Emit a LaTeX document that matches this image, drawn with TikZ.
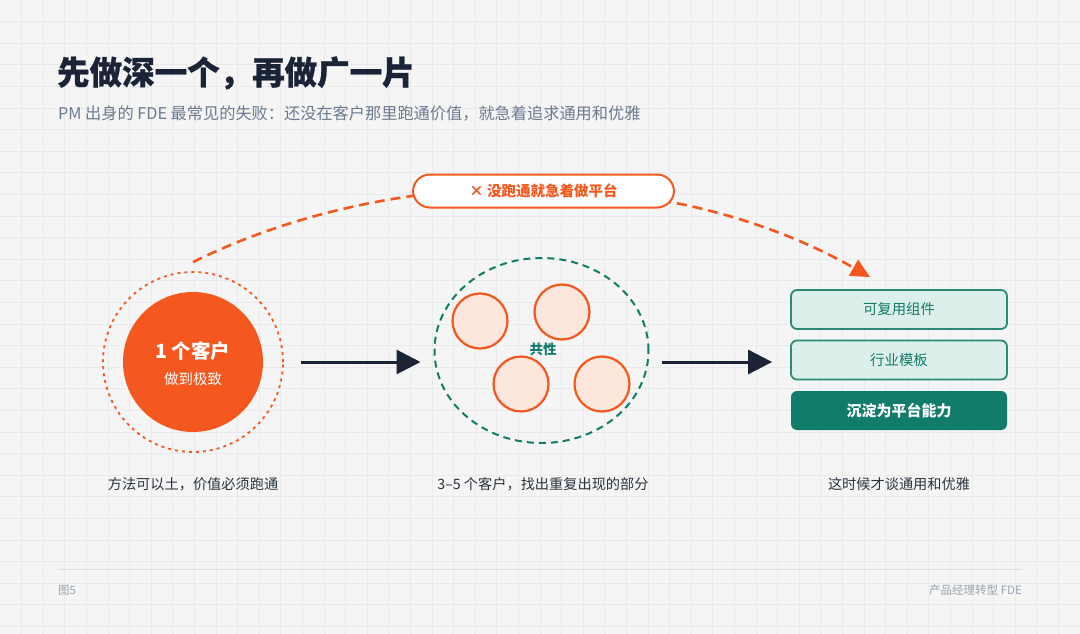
\documentclass[tikz,border=0pt]{standalone}
\usepackage{fontspec}
\setmainfont{Noto Sans CJK SC}
\newfontfamily\heavyfont{Noto Sans CJK SC}[BoldFeatures={FakeBold=0.8}]
\usetikzlibrary{arrows.meta,shapes.geometric}
\definecolor{bgc}{HTML}{F4F5F4}
\definecolor{gridc}{HTML}{E9EBEB}
\definecolor{navy}{HTML}{1B2437}
\definecolor{subgray}{HTML}{6B7A90}
\definecolor{orng}{HTML}{F4581F}
\definecolor{peach}{HTML}{FDE6DC}
\definecolor{teal}{HTML}{127C6A}
\definecolor{tealline}{HTML}{2A8B77}
\definecolor{tealfill}{HTML}{DDEFEA}
\definecolor{captc}{HTML}{2B3340}
\definecolor{footc}{HTML}{9AA4B1}
\definecolor{rulec}{HTML}{DCDFE2}
\newcommand{\fsz}[1]{\fontsize{#1}{#1}\selectfont}
\tikzset{
  gridline/.style={draw=gridc, line width=0.9pt},
  cust/.style={circle, draw=orng, fill=peach, line width=2.2pt, minimum size=55pt, inner sep=0pt},
  lightbox/.style={draw=tealline, fill=tealfill, line width=1.8pt, rounded corners=6pt, minimum width=216pt, minimum height=39pt, inner sep=0pt, text=teal, font=\fsz{14.4pt}},
  darkbox/.style={fill=teal, rounded corners=6pt, minimum width=216pt, minimum height=39pt, inner sep=0pt, text=white, font=\fsz{15pt}\bfseries},
  caption/.style={text=captc, font=\fsz{14.2pt}, inner sep=0pt},
  flowarrow/.style={draw=navy, line width=3pt, -{Triangle[length=24pt,width=24pt]}},
}
\begin{document}
\begin{tikzpicture}[x=1pt,y=-1pt]
\useasboundingbox (0,0) rectangle (1080,634);
\fill[bgc] (0,0) rectangle (1080,634);
\foreach \i in {1,...,49} \draw[gridline] (\i*21.6,0) -- (\i*21.6,634);
\foreach \j in {1,...,29} \draw[gridline] (0,\j*21.6) -- (1080,\j*21.6);

% title
\node[anchor=west, inner sep=0pt, text=navy, font=\fsz{32.5pt}\heavyfont\bfseries] (title) at (57,73) {先做深一个，再做广一片};
\node[anchor=west, inner sep=0pt, text=subgray, font=\fsz{16.2pt}] (sub) at (58,113) {PM 出身的 FDE 最常见的失败：还没在客户那里跑通价值，就急着追求通用和优雅};

% left
\node[circle, draw=orng, line width=1.8pt, dash pattern=on 3pt off 4pt, minimum size=180pt, inner sep=0pt] (outer) at (193,362) {};
\node[circle, fill=orng, minimum size=140pt, inner sep=0pt] (one) at (193,362) {};
\node[text=white, font=\fsz{19.5pt}\bfseries, inner sep=0pt] (onet) at (193,351) {1 个客户};
\node[text=white, font=\fsz{14.5pt}, inner sep=0pt] (ones) at (193,379) {做到极致};

% middle
\node[ellipse, draw=teal, line width=2pt, dash pattern=on 7pt off 5pt, minimum width=214pt, minimum height=185pt, inner sep=0pt] (ell) at (541.5,350.5) {};
\node[cust] (c1) at (480,321) {};
\node[cust] (c2) at (562,312) {};
\node[cust] (c3) at (521,384) {};
\node[cust] (c4) at (602,384) {};
\node[text=teal, font=\fsz{13.5pt}\bfseries, inner sep=0pt] (gx) at (543,349) {共性};

% right
\node[lightbox] (b1) at (899,309.5) {可复用组件};
\node[lightbox] (b2) at (899,360) {行业模板};
\node[darkbox] (b3) at (899,410.5) {沉淀为平台能力};

% arrows
\draw[flowarrow, shorten <=17pt, shorten >=13pt] (outer.east) -- (ell.west |- outer.east);
\draw[flowarrow, shorten <=12pt, shorten >=18pt] (ell.east |- outer.east) -- (b2.west |- outer.east);

% curved dashed arrow
\draw[draw=orng, line width=2.6pt, dash pattern=on 10pt off 6pt, -{Triangle[length=19pt,width=18pt]}]
  ([yshift=9pt]outer.north) .. controls (393,163) and (668,162) .. ([xshift=-29pt,yshift=12pt]b1.north);
\node[draw=orng, fill=white, line width=2pt, rounded corners=17pt, minimum width=261pt, minimum height=33pt, inner sep=0pt, text=orng, font=\fsz{14.5pt}\bfseries] (pill) at (543.5,191) {× 没跑通就急着做平台};

% captions
\node[caption] (cap1) at (193,484) {方法可以土，价值必须跑通};
\node[caption] (cap2) at (543,484) {3–5 个客户，找出重复出现的部分};
\node[caption] (cap3) at (899,484) {这时候才谈通用和优雅};

% footer
\coordinate (fl) at (58,569);
\coordinate (fr) at (1022,569);
\draw[draw=rulec, line width=1pt] (fl) -- (fr);
\node[anchor=west, inner sep=0pt, text=footc, font=\fsz{11.5pt}] (fig) at (58,590) {图5};
\node[anchor=east, inner sep=0pt, text=footc, font=\fsz{11.5pt}] (brand) at (1022,590) {产品经理转型 FDE};
\end{tikzpicture}
\end{document}
